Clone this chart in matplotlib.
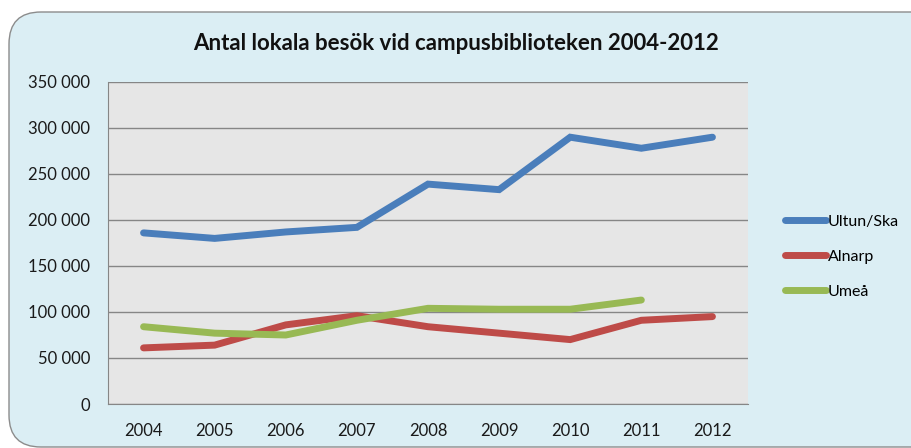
import matplotlib

matplotlib.use("Agg")
import matplotlib.pyplot as plt
from matplotlib.patches import FancyBboxPatch
from matplotlib.ticker import FuncFormatter

plt.rcParams['font.family'] = ['Lato', 'DejaVu Sans']

# Data
years = ["2004", "2005", "2006", "2007", "2008", "2009", "2010", "2011", "2012"]
ultuna = [186000, 180000, 187000, 192000, 239000, 233000, 290000, 278000, 290000]
alnarp = [61000, 64000, 86000, 96000, 84000, 77000, 70000, 91000, 95000]
umea = [84000, 77000, 75000, 91000, 104000, 103000, 103000, 113000]
series_labels = ["Ultun/Ska", "Alnarp", "Umeå"]
colors = ["#4a7ebb", "#be4b48", "#98b954"]

fig = plt.figure(figsize=(9.12, 4.48), dpi=100)
fig.patch.set_facecolor("white")

# rounded light blue chart area (runs off the right edge, as in the screenshot)
bg = FancyBboxPatch((9 / 912, 1 / 448), 940 / 912, 435 / 448,
                    boxstyle="round,pad=0,rounding_size=0.035",
                    transform=fig.transFigure, facecolor="#dbeef4",
                    edgecolor="#8c8c8c", linewidth=1.0, zorder=-10,
                    mutation_aspect=912 / 448)
fig.patches.append(bg)

ax = fig.add_axes([108 / 912, (448 - 404) / 448, 640 / 912, 322 / 448])
ax.set_zorder(1)
ax.set_facecolor("#e6e6e6")

x = list(range(len(years)))
for vals, lab, col in zip([ultuna, alnarp, umea], series_labels, colors):
    ax.plot(x[:len(vals)], vals, color=col, linewidth=5, label=lab,
            solid_capstyle="round", solid_joinstyle="miter")

ax.set_xlim(-0.5, len(years) - 0.5)
ax.set_ylim(0, 350000)
ax.set_xticks(x)
ax.set_xticklabels(years)
ax.set_yticks(range(0, 350001, 50000))
ax.yaxis.set_major_formatter(FuncFormatter(lambda v, p: f"{int(v):,}".replace(",", " ")))
ax.yaxis.grid(True, color="#868686", linewidth=1.0)
ax.set_axisbelow(True)
ax.tick_params(length=0, labelsize=12, colors="#1a1a1a")
ax.tick_params(axis="x", pad=14)
ax.tick_params(axis="y", pad=13)
for s in ["top", "right"]:
    ax.spines[s].set_visible(False)
ax.spines["left"].set_color("#868686")
ax.spines["bottom"].set_color("#868686")

fig.text(0.5, (448 - 43) / 448, "Antal lokala besök vid campusbiblioteken 2004-2012",
         ha="center", va="center", fontsize=16, fontweight="bold", color="#111111")

leg = ax.legend(loc="center left", bbox_to_anchor=(1.035, 0.457), frameon=False,
                fontsize=11.5, handlelength=2.6, handletextpad=0.1, labelspacing=1.3)

plt.savefig("out.png", dpi=100, facecolor=fig.get_facecolor())
